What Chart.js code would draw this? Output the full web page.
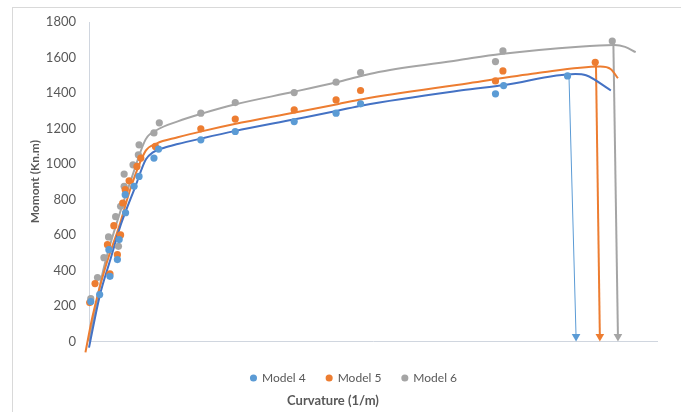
<!DOCTYPE html>
<html>
<head>
<meta charset="utf-8">
<script src="https://cdn.jsdelivr.net/npm/chart.js@4.4.1/dist/chart.umd.min.js"></script>
<style>
  html, body { margin: 0; padding: 0; background: #fff; overflow: hidden; }
  #wrap { position: relative; width: 681px; height: 412px; }
  #frame { position: absolute; left: 12px; top: 7px; width: 720px; height: 440px; border: 1px solid #d9d9d9; box-sizing: border-box; pointer-events: none; }
  canvas { position: absolute; left: 0; top: 0; }
</style>
</head>
<body>
<div id="wrap">
  <div id="frame"></div>
  <canvas id="c" width="681" height="412"></canvas>
</div>
<script>
// ---- data (curvature 1/m, moment kN.m) ----
const seriesNames = ['Model 4', 'Model 5', 'Model 6'];

const model4Curv = [0.00005,0.0003,0.00059,0.00056,0.0008,0.00085,0.00103,0.00102,0.00127,0.00141,0.00183,0.00196,0.00315,0.00412,0.00578,0.00696,0.00765,0.01145,0.01168,0.01348];
const model4Mom  = [225,264,367,517,461,574,725,827,874,930,1033,1084,1136,1183,1239,1286,1339,1395,1442,1496];

const model5Curv = [0.00002,0.00017,0.00059,0.00052,0.0008,0.0007,0.00089,0.00095,0.00102,0.00113,0.00135,0.00146,0.00187,0.00315,0.00412,0.00578,0.00696,0.00765,0.01145,0.01166,0.01426];
const model5Mom  = [219,326,380,545,489,652,600,780,855,905,986,1033,1099,1198,1253,1305,1361,1414,1468,1524,1573];

const model6Curv = [0.00005,0.00024,0.00042,0.00055,0.00083,0.00075,0.00089,0.00099,0.00099,0.00124,0.00139,0.00141,0.00183,0.00198,0.00315,0.00412,0.00578,0.00696,0.00765,0.01145,0.01166,0.01474];
const model6Mom  = [241,360,472,589,536,703,761,874,943,995,1052,1108,1175,1232,1286,1346,1402,1461,1515,1577,1637,1693];

// smooth curves
const curve4Curv = [0,0.0003,0.0006,0.0009,0.0013,0.0016,0.0018,0.0021,0.0025,0.0032,0.0041,0.0058,0.0070,0.0077,0.0105,0.0117,0.0137,0.0140,0.0147];
const curve4Mom  = [-35,255,460,660,870,1025,1065,1090,1112,1145,1185,1252,1300,1330,1415,1445,1507,1500,1414];

const curve5Curv = [-0.0001,0.0001,0.00047,0.00085,0.0012,0.0016,0.0019,0.0025,0.0032,0.0041,0.0058,0.0070,0.0077,0.0107,0.0126,0.0144,0.0147,0.0149];
const curve5Mom  = [-62,142,424,649,880,1075,1115,1150,1185,1225,1290,1337,1365,1455,1511,1549,1534,1483];

const curve6Curv = [0,0.0004,0.0008,0.0012,0.0016,0.0019,0.0025,0.0032,0.0041,0.0058,0.0070,0.0077,0.0082,0.0104,0.0116,0.0138,0.0148,0.0151,0.0154];
const curve6Mom  = [0,400,680,920,1140,1190,1240,1285,1335,1408,1462,1497,1520,1585,1620,1661,1670,1660,1630];

// ultimate-curvature arrows (top point, bottom point)
const arrow4Curv = [0.01352, 0.01372];
const arrow4Mom  = [1500, 28];
const arrow5Curv = [0.01428, 0.01439];
const arrow5Mom  = [1573, 28];
const arrow6Curv = [0.01477, 0.01490];
const arrow6Mom  = [1693, 28];

// ticks
const xTickValues = [0,0.002,0.004,0.006,0.008,0.01,0.012,0.014,0.016];
const xTickLabels = ['0','0.002','0.004','0.006','0.008','0.01','0.012','0.014','0.016'];
const yTickValues = [0,200,400,600,800,1000,1200,1400,1600,1800];
const yTickLabels = ['0','200','400','600','800','1000','1200','1400','1600','1800'];

// ---- build ----
const pts = (xs, ys) => xs.map((x, i) => ({x: x, y: ys[i]}));
const FONT = 'Lato, "Open Sans", "DejaVu Sans", sans-serif';
const TXT = '#595959';
const AXIS = '#d0d6df';
const LEGEND_PAD = 21;

function pointSet(label, xs, ys, color) {
  return { type: 'scatter', label, data: pts(xs, ys), backgroundColor: color, borderColor: color,
    borderWidth: 0, pointRadius: 3.6, pointHoverRadius: 3.6, pointStyle: 'circle', showLine: false, order: 0, clip: false };
}
function curveSet(label, xs, ys, color) {
  return { type: 'scatter', label, data: pts(xs, ys), borderColor: color, backgroundColor: color,
    borderWidth: 2, pointRadius: 0, showLine: true, cubicInterpolationMode: 'monotone', order: 1, clip: false };
}
function arrowSet(label, xs, ys, color, w) {
  return { type: 'scatter', label, data: pts(xs, ys), borderColor: color, backgroundColor: color,
    borderWidth: w, showLine: true, pointStyle: 'triangle', pointRotation: 180,
    pointRadius: [0, 5], pointBorderWidth: 0, order: 2, clip: false };
}

const placeBoxes = {
  id: 'placeBoxes',
  afterLayout(chart) {
    const lg = chart.legend;
    if (lg) {
      const d = 354 - (lg.left + lg.right) / 2;
      lg.left += d; lg.right += d;
      const h = lg.height;
      lg.top = 378 - 6 - LEGEND_PAD; lg.bottom = lg.top + h;
    }
    const tb = chart.titleBlock;
    if (tb) {
      const d = 333 - (tb.left + tb.right) / 2;
      tb.left += d; tb.right += d;
      const h = tb.height;
      tb.top = 400.5 - 7.8; tb.bottom = tb.top + h;
    }
  }
};

new Chart(document.getElementById('c'), {
  type: 'scatter',
  data: {
    datasets: [
      pointSet(seriesNames[0], model4Curv, model4Mom, '#5B9BD5'),
      pointSet(seriesNames[1], model5Curv, model5Mom, '#ED7D31'),
      pointSet(seriesNames[2], model6Curv, model6Mom, '#A5A5A5'),
      curveSet('Curve 4', curve4Curv, curve4Mom, '#4472C4'),
      curveSet('Curve 5', curve5Curv, curve5Mom, '#ED7D31'),
      curveSet('Curve 6', curve6Curv, curve6Mom, '#A5A5A5'),
      arrowSet('Arrow 4', arrow4Curv, arrow4Mom, '#5B9BD5', 1),
      arrowSet('Arrow 5', arrow5Curv, arrow5Mom, '#ED7D31', 2),
      arrowSet('Arrow 6', arrow6Curv, arrow6Mom, '#A5A5A5', 2)
    ]
  },
  options: {
    responsive: false,
    animation: false,
    events: [],
    layout: { padding: { left: 0, right: 24, top: 22, bottom: 7 } },
    scales: {
      x: {
        type: 'linear', position: 'bottom', min: 0, max: 0.016,
        grid: { display: false, drawTicks: true, tickLength: 13 },
        border: { display: true, color: AXIS, width: 1 },
        afterBuildTicks: s => { s.ticks = xTickValues.map(v => ({ value: v })); },
        afterFit: s => { s.height = 5; },
        ticks: {
          autoSkip: false, maxRotation: 0, padding: 0, color: TXT,
          font: { family: FONT, size: 13 },
          callback: (v, i) => xTickLabels[i]
        }
      },
      y: {
        type: 'linear', position: 'left', min: 0, max: 1800,
        grid: { display: false, drawTicks: false },
        border: { display: true, color: AXIS, width: 1 },
        afterBuildTicks: s => { s.ticks = yTickValues.map(v => ({ value: v })); },
        afterFit: s => { s.width = 89; },
        ticks: {
          padding: 13, color: TXT, font: { family: FONT, size: 13 },
          callback: (v, i) => yTickLabels[i]
        },
        title: {
          display: true, text: 'Momont (Kn.m)', color: TXT,
          font: { family: FONT, size: 12, weight: 'bold' },
          padding: { top: 28, bottom: 0 }
        }
      }
    },
    plugins: {
      legend: {
        display: true, position: 'bottom',
        labels: {
          usePointStyle: true, pointStyle: 'circle', boxWidth: 5, boxHeight: 5,
          padding: LEGEND_PAD, color: TXT, font: { family: FONT, size: 12 },
          filter: item => item.datasetIndex < 3
        }
      },
      title: {
        display: true, position: 'bottom', text: 'Curvature (1/m)', color: TXT,
        font: { family: FONT, size: 13, weight: 'bold' },
        padding: { top: 0, bottom: 0 }
      },
      tooltip: { enabled: false }
    }
  },
  plugins: [placeBoxes]
});
</script>
</body>
</html>
